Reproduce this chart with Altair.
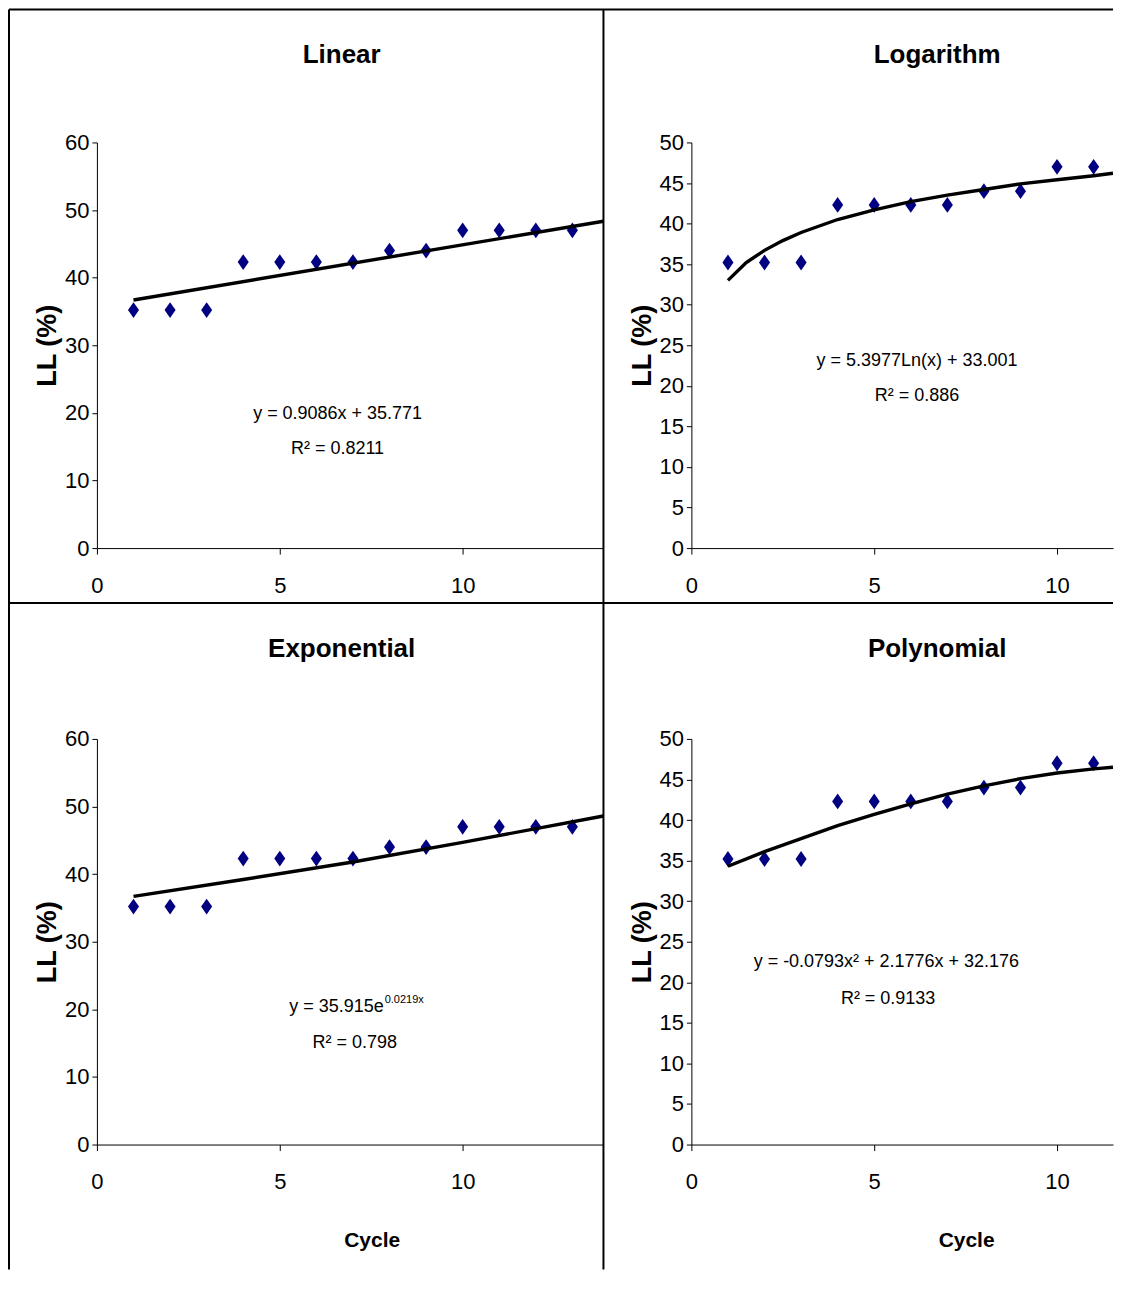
import altair as alt
import pandas as pd

# ---------------- data ----------------
cycle = [1, 2, 3, 4, 5, 6, 7, 8, 9, 10, 11, 12, 13]
ll = [35.2, 35.2, 35.2, 42.3, 42.3, 42.3, 42.3, 44.0, 44.0, 47.0, 47.0, 47.0, 47.0]

panel_titles = ["Linear", "Logarithm", "Exponential", "Polynomial"]
y_max = [60, 50, 60, 50]
y_step = [10, 5, 10, 5]
x_max = [13.85, 11.53, 13.85, 11.53]
x_ticks = [0, 5, 10]

# trend lines
lin_tx = [1, 13.85]
lin_ty = [36.7, 48.35]
log_tx = [1, 1.5, 2, 2.5, 3, 4, 5, 6, 7, 8, 9, 10, 11, 11.53]
log_ty = [33.0, 35.2, 36.7, 37.9, 38.9, 40.5, 41.7, 42.7, 43.5, 44.2, 44.9, 45.4, 45.9, 46.2]
exp_tx = [1, 4, 7, 10, 13.85]
exp_ty = [36.7, 39.2, 41.8, 44.7, 48.6]
poly_tx = [1, 2, 3, 4, 5, 6, 7, 8, 9, 10, 11, 11.53]
poly_ty = [34.3, 36.1, 37.7, 39.3, 40.7, 42.0, 43.2, 44.2, 45.1, 45.8, 46.3, 46.5]
trend_x = [lin_tx, log_tx, exp_tx, poly_tx]
trend_y = [lin_ty, log_ty, exp_ty, poly_ty]

eq_text = ["y = 0.9086x + 35.771", "y = 5.3977Ln(x) + 33.001", "y = 35.915e", "y = -0.0793x² + 2.1776x + 32.176"]
eq_x = [6.58, 6.17, 7.84, 5.33]
eq_y = [19.85, 23.1, 20.35, 22.5]
eq_align = ["center", "center", "right", "center"]
exp_sup_text = "0.0219x"
r2_text = ["R² = 0.8211", "R² = 0.886", "R² = 0.798", "R² = 0.9133"]
r2_x = [6.58, 6.17, 7.05, 5.38]
r2_y = [14.7, 18.7, 15.0, 17.9]

# ---------------- styling ----------------
REG = "Liberation Sans, Arial, sans-serif"
PLOT_H = 406
W_LEFT = 507
W_RIGHT = 422
DIAMOND = "M0,-1L0.7,0L0,1L-0.7,0Z"
TOP = -133       # top frame line, relative to the first plot's top
BOTTOM = 1128    # lower end of the vertical frame lines
RIGHT = W_LEFT + 88 + W_RIGHT


def panel(i, width, bottom):
    xs = alt.Scale(domain=[0, x_max[i]], nice=False, zero=False)
    ys = alt.Scale(domain=[0, y_max[i]], nice=False)
    xaxis_kw = dict(values=x_ticks, grid=False, tickSize=6, labelPadding=21,
                    labelFontSize=22, labelFont=REG, labelColor="black",
                    domainColor="black", tickColor="black", labelFlush=False)
    if bottom:
        xaxis_kw.update(title="Cycle", titleX=275, titleY=102, titleBaseline="alphabetic",
                        titleAlign="center", titleFontSize=21, titleFont=REG,
                        titleFontWeight="bold", titleColor="black")
    else:
        xaxis_kw.update(title="")
    yaxis = alt.Axis(values=list(range(0, y_max[i] + 1, y_step[i])), grid=False, tickSize=5,
                     labelPadding=3, labelFontSize=22, labelFont=REG, labelColor="black",
                     domainColor="black", tickColor="black", title="LL (%)",
                     titleX=-41, titleY=PLOT_H / 2, titleAngle=270, titleBaseline="alphabetic",
                     titleAlign="center", titleFontSize=27, titleFont=REG,
                     titleFontWeight="bold", titleColor="black")

    pts = pd.DataFrame({"x": cycle, "y": ll})
    tr = pd.DataFrame({"x": trend_x[i], "y": trend_y[i]})

    X = alt.X("x:Q", scale=xs, axis=alt.Axis(**xaxis_kw))
    Y = alt.Y("y:Q", scale=ys, axis=yaxis)

    line = alt.Chart(tr).mark_line(color="black", strokeWidth=3.4, clip=True).encode(x=X, y=Y)
    points = alt.Chart(pts).mark_point(shape=DIAMOND, filled=True, size=250, color="#000080",
                                       opacity=1, clip=True).encode(x=X, y=Y)

    eq_df = pd.DataFrame({"x": [eq_x[i]], "y": [eq_y[i]], "t": [eq_text[i]]})
    eq = alt.Chart(eq_df).mark_text(font=REG, fontSize=18, color="black", align=eq_align[i],
                                    baseline="middle").encode(
        x=alt.X("x:Q", scale=xs), y=alt.Y("y:Q", scale=ys), text="t:N")
    r2_df = pd.DataFrame({"x": [r2_x[i]], "y": [r2_y[i]], "t": [r2_text[i]]})
    r2 = alt.Chart(r2_df).mark_text(font=REG, fontSize=18, color="black", align="center",
                                    baseline="middle").encode(
        x=alt.X("x:Q", scale=xs), y=alt.Y("y:Q", scale=ys), text="t:N")

    layers = [points, line, eq, r2]
    if i == 2:
        sup_df = pd.DataFrame({"x": [eq_x[i]], "y": [eq_y[i]], "t": [exp_sup_text]})
        sup = alt.Chart(sup_df).mark_text(font=REG, fontSize=11, color="black", align="left",
                                          baseline="middle", dy=-7, dx=1).encode(
            x=alt.X("x:Q", scale=xs), y=alt.Y("y:Q", scale=ys), text="t:N")
        layers.append(sup)

    title_y = -82 if bottom else -80
    title_x = 245 if width == W_LEFT else 246
    title = alt.Chart().mark_text(text=panel_titles[i], font=REG, fontSize=26,
                                  fontWeight="bold", color="black", align="center",
                                  baseline="alphabetic").encode(
        x=alt.value(title_x), y=alt.value(title_y))
    layers.append(title)

    if i == 0:
        # frame lines of the four chart areas
        bw = 2
        frame = [
            alt.Chart().mark_rule(color="black", strokeWidth=bw).encode(
                x=alt.value(-88), x2=alt.value(RIGHT), y=alt.value(TOP)),
            alt.Chart().mark_rule(color="black", strokeWidth=bw).encode(
                x=alt.value(-88), x2=alt.value(RIGHT), y=alt.value(461)),
            alt.Chart().mark_rule(color="black", strokeWidth=bw).encode(
                x=alt.value(-88), y=alt.value(TOP), y2=alt.value(BOTTOM)),
            alt.Chart().mark_rule(color="black", strokeWidth=bw).encode(
                x=alt.value(507), y=alt.value(TOP), y2=alt.value(BOTTOM)),
        ]
        layers = frame + layers

    return alt.layer(*layers).properties(width=width, height=PLOT_H)


chart = alt.concat(
    panel(0, W_LEFT, False), panel(1, W_RIGHT, False),
    panel(2, W_LEFT, True), panel(3, W_RIGHT, True),
    columns=2, spacing=alt.RowColnumber(row=191, column=88), bounds="flush",
).properties(padding=0, background="white").configure_view(stroke=None)

chart.save("out.html", embed_options={"renderer": "svg", "actions": False})
